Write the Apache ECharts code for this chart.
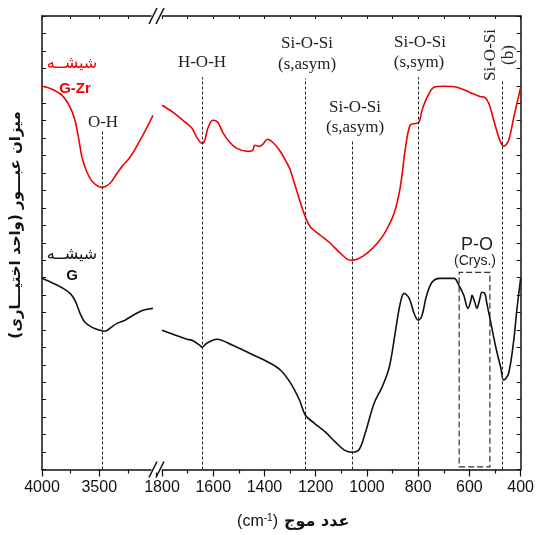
<!DOCTYPE html>
<html>
<head>
<meta charset="utf-8">
<script src="https://cdn.jsdelivr.net/npm/echarts@6/dist/echarts.min.js"></script>
<style>
  html, body { margin: 0; padding: 0; background: #fff; }
  #chart { width: 537px; height: 535px; }
</style>
</head>
<body>
<div id="chart"></div>
<script>
// FTIR transmittance spectra of the two glasses, split axis (4000–3000 | 1800–400 cm-1)

// High wavenumber segment (cm-1)
const wnHighRed = [4000, 3930, 3825, 3755, 3712, 3677, 3651, 3607, 3555, 3476, 3406, 3345, 3293, 3231, 3144, 3074, 3031];
const tHighRed  = [21.97, 21.85, 21.45, 20.77, 20.02, 18.87, 17.90, 17.04, 16.47, 16.18, 16.41, 16.98, 17.44, 17.90, 18.87, 19.73, 20.30];

const wnHighBlack = [4000, 3904, 3817, 3755, 3712, 3668, 3625, 3563, 3493, 3450, 3406, 3345, 3275, 3205, 3118, 3031];
const tHighBlack  = [10.96, 10.68, 10.39, 10.10, 9.70, 8.96, 8.44, 8.15, 7.98, 7.93, 8.10, 8.38, 8.56, 8.84, 9.13, 9.24];

// Low wavenumber segment (cm-1)
const wnLowRed = [1800, 1757, 1718, 1683, 1664, 1644, 1633, 1621, 1602, 1582, 1563, 1536, 1508, 1466, 1446, 1438, 1419, 1407, 1388, 1368,
                  1341, 1314, 1302, 1283, 1259, 1240, 1220, 1182, 1143, 1104, 1065, 1038, 999, 960, 929, 894, 870, 851, 832, 812,
                  797, 785, 765, 738, 699, 649, 598, 559, 540, 524, 505, 481, 466, 447, 427, 400];
const tLowRed  = [20.88, 20.48, 20.02, 19.56, 19.04, 18.70, 18.87, 19.56, 20.02, 19.91, 19.33, 18.76, 18.41, 18.24, 18.30, 18.59, 18.53, 18.64, 18.93, 18.76,
                  18.30, 17.62, 17.27, 16.41, 15.26, 14.46, 13.89, 13.43, 12.97, 12.40, 12.00, 12.05, 12.40, 12.97, 13.60, 14.69, 16.18, 18.30, 19.73, 19.84,
                  19.90, 20.59, 21.33, 21.91, 21.97, 21.91, 21.62, 21.39, 21.33, 20.99, 20.02, 18.87, 18.53, 18.87, 20.19, 21.91];

const wnLowBlack = [1800, 1757, 1703, 1683, 1652, 1644, 1625, 1586, 1524, 1458, 1385, 1337, 1298, 1263, 1240, 1205, 1162, 1123, 1088, 1057,
                    1030, 1007, 972, 941, 913, 890, 870, 855, 835, 816, 800, 785, 769, 746, 715, 660, 641, 622, 606, 594,
                    590, 579, 571, 559, 551, 540, 532, 516, 497, 478, 466, 447, 427, 415, 400];
const tLowBlack  = [7.98, 7.75, 7.47, 7.41, 7.12, 7.01, 7.24, 7.47, 7.12, 6.66, 6.15, 5.69, 4.95, 3.97, 3.11, 2.65, 2.14, 1.57, 1.11, 0.99,
                    1.16, 2.08, 3.80, 4.72, 5.86, 7.81, 9.53, 10.10, 9.81, 8.96, 8.56, 8.84, 9.87, 10.73, 10.96, 10.96, 10.56, 9.99, 9.24, 9.70,
                    9.99, 9.59, 9.24, 9.81, 10.16, 10.10, 9.53, 8.38, 7.01, 5.86, 5.12, 5.52, 7.41, 9.13, 10.96];

// Band positions marked with dashed guides (cm-1) and how high each guide reaches
const bandHigh = [{ wn: 3475, top: 19.44 }];
const bandLow = [
  { wn: 1644, top: 22.49 },
  { wn: 1240, top: 22.42 },
  { wn: 1058, top: 18.87 },
  { wn: 800,  top: 22.49 },
  { wn: 470,  top: 22.25 }
];
// Crystalline P-O region
const crysBox = { from: 640, to: 520, bottom: 0.15, top: 11.3 };

const RED = '#f00000';
const INK = '#111';
const SERIF = '"Liberation Serif", "Times New Roman", serif';
const SANS = '"Liberation Sans", Arial, sans-serif';
const ARABIC = '"DejaVu Sans", sans-serif';

const zip = (xs, ys) => xs.map((x, i) => [x, ys[i]]);

const axisLineStyle = { color: INK, width: 1.5 };

function bottomAxis(gridIndex, min, max, interval, showFirst) {
  return {
    type: 'value', gridIndex, position: 'bottom', min, max, interval, inverse: true,
    axisLine: { show: true, onZero: false, lineStyle: axisLineStyle },
    axisTick: { show: true, inside: false, length: 7, lineStyle: { color: INK, width: 1.2 } },
    minorTick: { show: true, splitNumber: 2, length: 4, lineStyle: { color: INK, width: 1.2 } },
    axisLabel: {
      show: true, margin: 10, fontSize: 16, color: INK, fontFamily: SANS,
      formatter: v => (v === showFirst ? '' : String(v))
    },
    splitLine: { show: false }, minorSplitLine: { show: false }
  };
}
function topAxis(gridIndex, min, max, interval) {
  return {
    type: 'value', gridIndex, position: 'top', min, max, interval, inverse: true,
    axisLine: { show: true, onZero: false, lineStyle: axisLineStyle },
    axisTick: { show: true, inside: true, length: 3, lineStyle: { color: INK, width: 1 } },
    axisLabel: { show: false },
    splitLine: { show: false }
  };
}
function sideAxis(gridIndex, position) {
  return {
    type: 'value', gridIndex, position, min: 0, max: 26, interval: 1,
    axisLine: { show: true, onZero: false, lineStyle: axisLineStyle },
    axisTick: { show: true, inside: true, length: 4, lineStyle: { color: INK, width: 1 } },
    axisLabel: { show: false },
    splitLine: { show: false }
  };
}

const guideStyle = { color: '#222', width: 1, type: [3, 2] };
function guides(list) {
  return {
    silent: true, symbol: 'none', animation: false,
    label: { show: false },
    lineStyle: guideStyle,
    data: list.map(b => [{ coord: [b.wn, 0] }, { coord: [b.wn, b.top] }])
  };
}

function line(name, xi, yi, data, color, extra) {
  return Object.assign({
    name, type: 'line', xAxisIndex: xi, yAxisIndex: yi, data,
    showSymbol: false, smooth: 0.35, animation: false,
    lineStyle: { color, width: 1.6 }, itemStyle: { color }, z: 3
  }, extra || {});
}

function txt(text, x, y, font, size, color, extra) {
  return Object.assign({
    type: 'text', x, y, z: 20, silent: true,
    style: Object.assign({
      text, fill: color || INK, fontFamily: font, fontSize: size,
      align: 'center', verticalAlign: 'middle'
    }, (extra && extra.style) || {})
  }, extra && extra.rotation !== undefined ? { rotation: extra.rotation } : {});
}

function breakMarks(y) {
  const s = { stroke: INK, lineWidth: 1.5 };
  return [
    { type: 'rect', z: 30, shape: { x: 151.5, y: y - 3, width: 10, height: 6 }, style: { fill: '#fff' } },
    { type: 'line', z: 31, shape: { x1: 149, y1: y + 8, x2: 157, y2: y - 8 }, style: s },
    { type: 'line', z: 31, shape: { x1: 156, y1: y + 8, x2: 164, y2: y - 8 }, style: s }
  ];
}

const chart = echarts.init(document.getElementById('chart'), null, { renderer: 'canvas' });

chart.setOption({
  backgroundColor: '#fff',
  animation: false,
  grid: [
    { left: 42, top: 16, width: 114.5, height: 453.5 },
    { left: 162, top: 16, width: 360, height: 453.5 }
  ],
  xAxis: [
    bottomAxis(0, 3000, 4000, 500, 3000),
    topAxis(0, 3000, 4000, 250),
    bottomAxis(1, 400, 1800, 200, null),
    topAxis(1, 400, 1800, 100)
  ],
  yAxis: [
    sideAxis(0, 'left'),
    sideAxis(1, 'right')
  ],
  series: [
    line('G-Zr', 0, 0, zip(wnHighRed, tHighRed), RED, { markLine: guides(bandHigh) }),
    line('G', 0, 0, zip(wnHighBlack, tHighBlack), INK),
    line('G-Zr', 2, 1, zip(wnLowRed, tLowRed), RED, { markLine: guides(bandLow) }),
    line('G', 2, 1, zip(wnLowBlack, tLowBlack), INK, {
      markArea: {
        silent: true,
        itemStyle: { color: 'rgba(0,0,0,0)', borderColor: '#333', borderWidth: 1.2, borderType: [6, 3] },
        data: [[{ coord: [crysBox.from, crysBox.bottom] }, { coord: [crysBox.to, crysBox.top] }]]
      }
    })
  ],
  graphic: [
    ...breakMarks(16),
    ...breakMarks(469.5),
    // sample names
    txt('شیشــه', 72, 64, ARABIC, 16, RED),
    txt('G-Zr', 75, 89, SANS, 15, RED, { style: { fontWeight: 'bold' } }),
    txt('شیشــه', 72, 255, ARABIC, 16, INK),
    txt('G', 72, 276, SANS, 15, INK, { style: { fontWeight: 'bold' } }),
    // band assignments
    txt('O-H', 103, 123, SERIF, 17, '#222'),
    txt('H-O-H', 202, 63, SERIF, 17, '#222'),
    txt('Si-O-Si', 307, 44, SERIF, 17, '#222'),
    txt('(s,asym)', 307, 65, SERIF, 17, '#222'),
    txt('Si-O-Si', 355, 108, SERIF, 17, '#222'),
    txt('(s,asym)', 355, 128, SERIF, 17, '#222'),
    txt('Si-O-Si', 420, 43, SERIF, 17, '#222'),
    txt('(s,sym)', 419, 63, SERIF, 17, '#222'),
    txt('Si-O-Si', 491, 55, SERIF, 17, '#222', { rotation: Math.PI / 2 }),
    txt('(b)', 509, 55, SERIF, 17, '#222', { rotation: Math.PI / 2 }),
    txt('P-O', 477, 245, SANS, 18, '#222'),
    txt('(Crys.)', 475, 261, SANS, 14, '#222'),
    // axis titles
    txt('میزان عبـــور (واحد اختیـــاری)', 16, 225, ARABIC, 15, INK, { rotation: Math.PI / 2, style: { fontWeight: 'bold' } }),
    {
      type: 'text', x: 278, y: 522, z: 20, silent: true,
      style: {
        text: '{p|(cm}{s|-1}{p|)}', align: 'right', verticalAlign: 'middle',
        rich: {
          p: { fontFamily: SANS, fontSize: 16, fill: INK },
          s: { fontFamily: SANS, fontSize: 10, fill: INK, verticalAlign: 'top', padding: [0, 0, 8, 0] }
        }
      }
    },
    txt('عدد موج', 284, 522, ARABIC, 16, INK, { style: { fontWeight: 'bold', align: 'left' } })
  ]
});
</script>
</body>
</html>
